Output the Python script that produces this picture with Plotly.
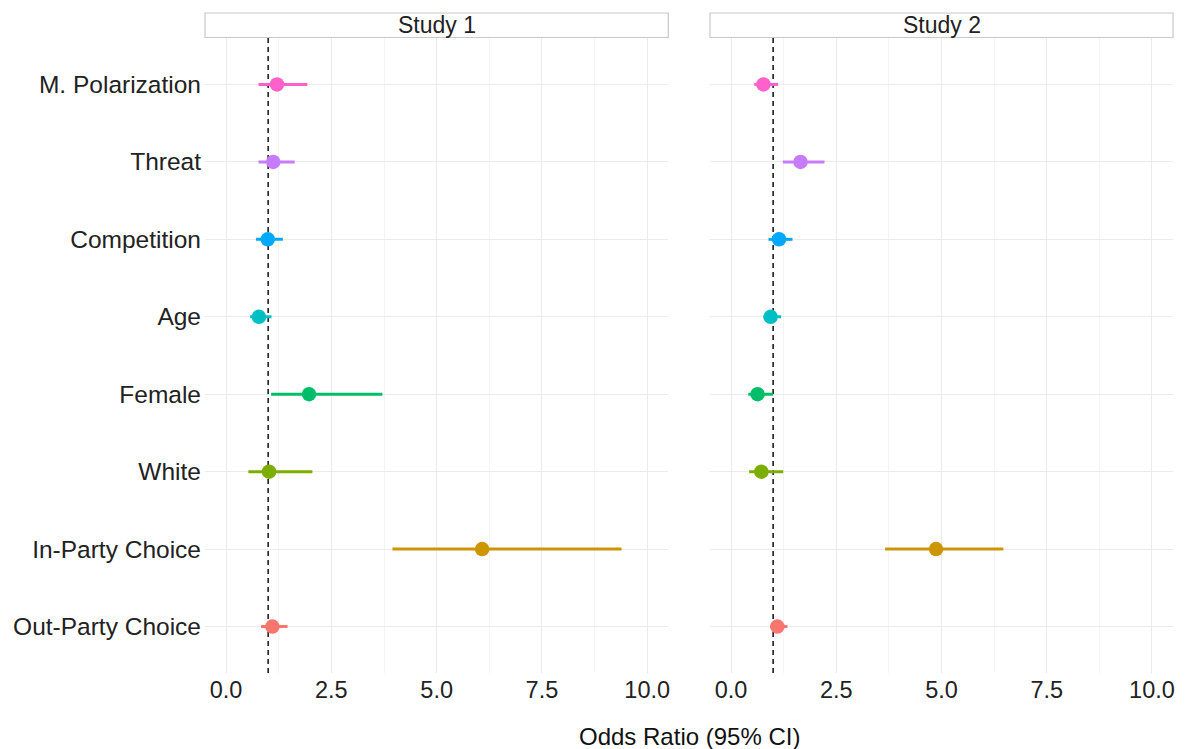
import plotly.graph_objects as go

# ---------------- data ----------------
categories = ["Out-Party Choice", "In-Party Choice", "White", "Female",
              "Age", "Competition", "Threat", "M. Polarization"]
colors = ["#F8766D", "#CD9600", "#7CAE00", "#00BE67",
          "#00BFC4", "#00A9FF", "#C77CFF", "#FF61CC"]

studies = ["Study 1", "Study 2"]

study1_or = [1.10, 6.08, 1.02, 1.97, 0.78, 0.99, 1.12, 1.21]
study1_lo = [0.83, 3.95, 0.53, 1.07, 0.57, 0.71, 0.77, 0.77]
study1_hi = [1.46, 9.39, 2.05, 3.71, 1.08, 1.35, 1.63, 1.93]

study2_or = [1.10, 4.87, 0.72, 0.63, 0.94, 1.14, 1.65, 0.77]
study2_lo = [0.93, 3.66, 0.43, 0.41, 0.77, 0.89, 1.23, 0.55]
study2_hi = [1.34, 6.47, 1.24, 1.00, 1.19, 1.46, 2.22, 1.12]

x_ticks = [0.0, 2.5, 5.0, 7.5, 10.0]
x_tick_labels = ["0.0", "2.5", "5.0", "7.5", "10.0"]
x_minor = [1.25, 3.75, 6.25, 8.75]
ref_line = 1.0

# ---------------- figure ----------------
W, H = 1186, 749
ML, MR, MT, MB = 205, 13, 38, 76
plot_w = W - ML - MR
plot_h = H - MT - MB

fig = go.Figure()

data = [(study1_or, study1_lo, study1_hi), (study2_or, study2_lo, study2_hi)]
positions = list(range(1, len(categories) + 1))

for si, (orv, lo, hi) in enumerate(data):
    xa = "x" if si == 0 else "x2"
    ya = "y" if si == 0 else "y2"
    for ci, cat in enumerate(categories):
        fig.add_trace(go.Scatter(
            x=[orv[ci]], y=[positions[ci]],
            xaxis=xa, yaxis=ya,
            mode="markers",
            marker=dict(color=colors[ci], size=14.5, line=dict(width=0)),
            error_x=dict(type="data", symmetric=False,
                         array=[hi[ci] - orv[ci]],
                         arrayminus=[orv[ci] - lo[ci]],
                         color=colors[ci], thickness=3, width=0),
            showlegend=False,
            name=cat,
        ))

d1 = [0, (668.3 - ML) / plot_w]
d2 = [(710 - ML) / plot_w, 1]

grid = "#ebebeb"
minor_grid = "#f4f4f4"
font_fam = "Liberation Sans, Arial, Helvetica, sans-serif"

xaxis_common = dict(
    range=[-0.5, 10.5], tickvals=x_ticks, ticktext=x_tick_labels,
    showgrid=True, gridcolor=grid, gridwidth=1, zeroline=False,
    showline=False, ticks="",
    tickfont=dict(family=font_fam, size=23.5, color="#222222"),
    minor=dict(tickvals=x_minor, showgrid=True, gridcolor=minor_grid, gridwidth=1),
)
yaxis_common = dict(
    range=[0.4, 8.6], tickvals=positions, ticktext=categories,
    showgrid=True, gridcolor=grid, gridwidth=1, zeroline=False,
    showline=False, ticks="",
    tickfont=dict(family=font_fam, size=24.5, color="#222222"),
)

fig.update_layout(
    width=W, height=H,
    margin=dict(l=ML, r=MR, t=MT, b=MB, autoexpand=False),
    paper_bgcolor="white", plot_bgcolor="white",
    xaxis=dict(domain=d1, anchor="y", **xaxis_common),
    xaxis2=dict(domain=d2, anchor="y2", **xaxis_common),
    yaxis=dict(domain=[0, 1], anchor="x", ticklabelstandoff=3, **yaxis_common),
    yaxis2=dict(domain=[0, 1], anchor="x2", showticklabels=False,
                **{k: v for k, v in yaxis_common.items() if k != "tickfont"}),
    font=dict(family=font_fam),
)

# reference dashed lines
for xa, ya in [("x", "y"), ("x2", "y2")]:
    fig.add_shape(type="line", xref=xa, yref=f"{ya} domain",
                  x0=ref_line, x1=ref_line, y0=0, y1=1,
                  line=dict(color="#2a2a2a", width=1.7, dash="5px,4px"),
                  layer="below")

# facet strips
strip_y0 = 1 + (MT - 37.5) / plot_h
strip_y1 = 1 + (MT - 13) / plot_h
for dom, label in zip([d1, d2], studies):
    fig.add_shape(type="rect", xref="paper", yref="paper",
                  x0=dom[0], x1=dom[1], y0=strip_y0, y1=strip_y1,
                  line=dict(color="#c8c8c8", width=1.2), fillcolor="white")
    fig.add_annotation(xref="paper", yref="paper",
                       x=(dom[0] + dom[1]) / 2, y=(strip_y0 + strip_y1) / 2,
                       text=label, showarrow=False, xanchor="center", yanchor="middle",
                       font=dict(family=font_fam, size=23, color="#222222"))

# x axis title
fig.add_annotation(xref="paper", yref="paper", x=0.5, y=-(736 - (H - MB)) / plot_h,
                   text="Odds Ratio (95% CI)", showarrow=False,
                   xanchor="center", yanchor="middle",
                   font=dict(family=font_fam, size=24, color="#111111"))

fig.write_html("out.html",
               config={"displayModeBar": False},
               post_script="document.body.style.margin='0';document.body.style.padding='0';")
